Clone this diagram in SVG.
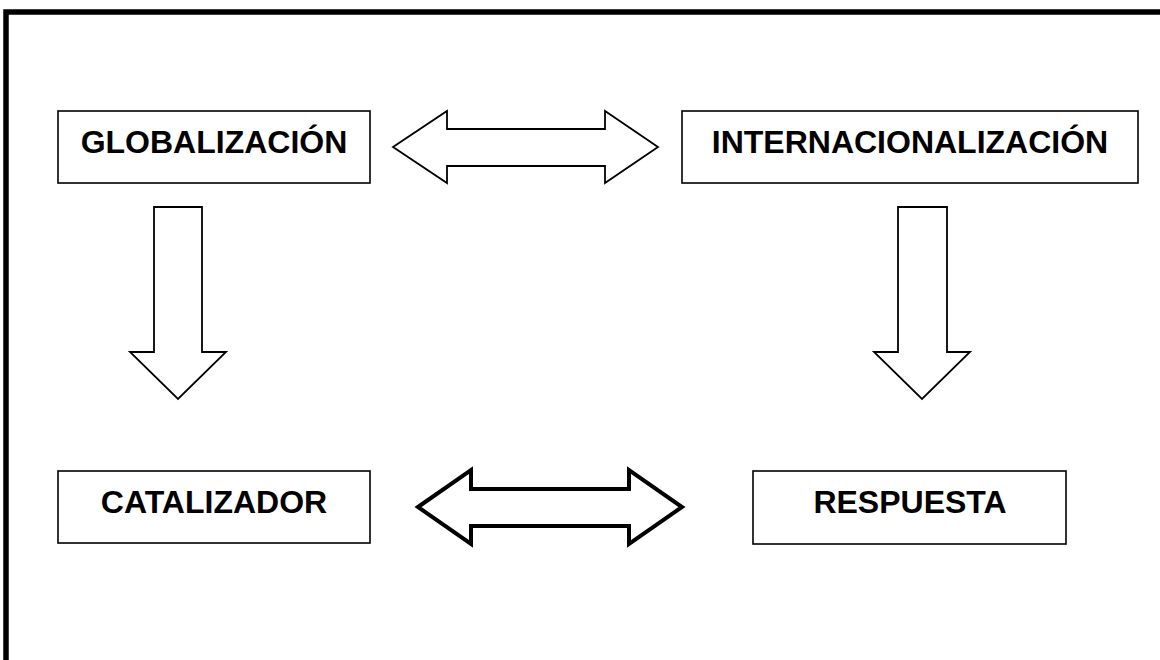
<svg xmlns="http://www.w3.org/2000/svg" width="1160" height="660" viewBox="0 0 1160 660">
  <style>
    .box { fill: #ffffff; stroke: #000000; stroke-width: 1.6; }
    .lbl { font-family: "Liberation Sans", Arial, sans-serif; font-weight: bold; font-size: 32px; fill: #000000; text-anchor: middle; }
    .arr { fill: #ffffff; stroke: #000000; stroke-width: 1.8; stroke-linejoin: miter; }
    .arr-thick { fill: #ffffff; stroke: #000000; stroke-width: 4; stroke-linejoin: miter; }
  </style>
  <rect x="0" y="0" width="1160" height="660" fill="#ffffff"/>
  <rect id="frame" x="6" y="12" width="1200" height="700" fill="none" stroke="#000000" stroke-width="5.5"/>

  <g id="connectors">
    <path id="arrow-top" class="arr" d="M393,147 L447,111 L447,129 L605,129 L605,111 L658,147 L605,183 L605,166 L447,166 L447,183 Z"/>
    <path id="arrow-left-down" class="arr" d="M154,207 L202,207 L202,352 L226,352 L178,399 L130,352 L154,352 Z"/>
    <path id="arrow-right-down" class="arr" d="M898,207 L947,207 L947,352 L970,352 L922,399 L874,352 L898,352 Z"/>
    <path id="arrow-bottom" class="arr-thick" d="M418,507 L471,470 L471,489 L629,489 L629,470 L682,507 L629,544 L629,526 L471,526 L471,544 Z"/>
  </g>

  <g id="node-globalizacion">
    <rect class="box" x="58" y="111" width="312" height="72"/>
    <text class="lbl" x="214" y="153">GLOBALIZACIÓN</text>
  </g>
  <g id="node-internacionalizacion">
    <rect class="box" x="682" y="111" width="456" height="72"/>
    <text class="lbl" x="910" y="153">INTERNACIONALIZACIÓN</text>
  </g>
  <g id="node-catalizador">
    <rect class="box" x="58" y="471" width="312" height="72"/>
    <text class="lbl" x="214" y="513">CATALIZADOR</text>
  </g>
  <g id="node-respuesta">
    <rect class="box" x="753" y="471" width="313" height="73"/>
    <text class="lbl" x="910" y="513">RESPUESTA</text>
  </g>
</svg>
